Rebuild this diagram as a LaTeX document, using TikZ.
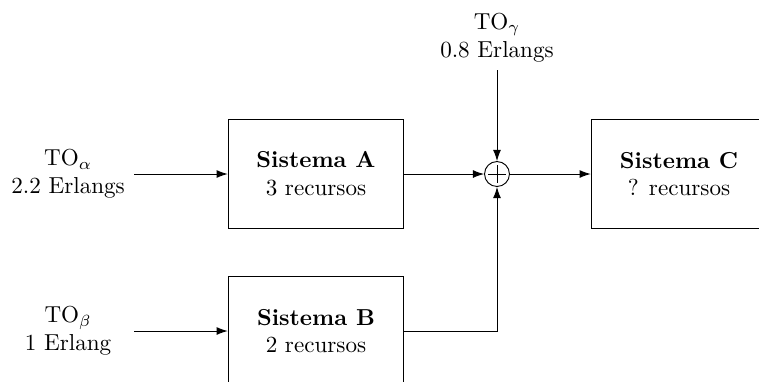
\documentclass[tikz,border=0pt]{standalone}
\usetikzlibrary{arrows.meta}
\begin{document}
\begin{tikzpicture}[x=0.433pt,y=-0.433pt,
  blk/.style={draw, minimum width=76pt, minimum height=47pt, align=center, inner sep=0pt},
  src/.style={align=center, text width=50pt},
  sumnode/.style={draw, circle, minimum size=10.8pt, inner sep=0pt,
    path picture={\draw ([xshift=-3.7pt]path picture bounding box.center) -- ([xshift=3.7pt]path picture bounding box.center)
                        ([yshift=-3.7pt]path picture bounding box.center) -- ([yshift=3.7pt]path picture bounding box.center);}},
  flow/.style={-{Latex[length=4.8pt,width=3.4pt]}}]
\useasboundingbox (0,0) rectangle (759,381);
\clip (0,0) rectangle (759,381);
\node[blk] (A) at (316,174) {\textbf{Sistema A}\\3 recursos};
\node[blk] (B) at (316,331) {\textbf{Sistema B}\\2 recursos};
\node[blk] (C) at (679,174) {\textbf{Sistema C}\\? recursos};
\node[sumnode] (S) at (497,174) {};
\node[src, anchor=east] (ta) at (134,174) {TO$_\alpha$\\2.2 Erlangs};
\node[src, anchor=east] (tb) at (134,331) {TO$_\beta$\\1 Erlang};
\node[src, anchor=south] (tg) at (497,70) {TO$_\gamma$\\0.8 Erlangs};
\draw[flow] (ta.east) -- (A.west);
\draw[flow] (tb.east) -- (B.west);
\draw[flow] (A.east) -- (S.west);
\draw[flow] (tg.south) -- (S.north);
\draw[flow] (B.east) -| (S.south);
\draw[flow] (S.east) -- (C.west);
\end{tikzpicture}
\end{document}
